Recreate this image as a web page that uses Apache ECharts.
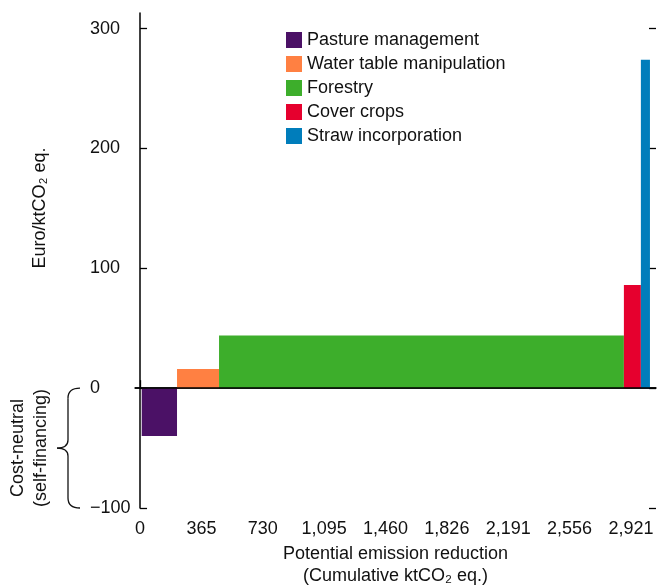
<!DOCTYPE html>
<html>
<head>
<meta charset="utf-8">
<script src="https://cdn.jsdelivr.net/npm/echarts@6/dist/echarts.min.js"></script>
<style>
  html, body { margin: 0; padding: 0; background: #fff; }
  #chart { width: 665px; height: 588px; }
</style>
</head>
<body>
<div id="chart"></div>
<script>
// Marginal abatement cost curve: bar width = emission reduction, height = cost.
const measures = ['Pasture management', 'Water table manipulation', 'Forestry', 'Cover crops', 'Straw incorporation'];
const colors = ['#4B1166', '#FF8042', '#3DAE2B', '#E6002E', '#007DBB'];
const reductions = [210, 250, 2409, 101, 54];   // ktCO2 eq. per measure
const costs = [-40, 16, 44, 86, 274];            // Euro/ktCO2 eq.
const curveStart = 10;
const xTicks = [0, 365.125, 730.25, 1095.375, 1460.5, 1825.625, 2190.75, 2555.875, 2921];
const xTickLabels = ['0', '365', '730', '1,095', '1,460', '1,826', '2,191', '2,556', '2,921'];
const yTicks = [-100, 0, 100, 200, 300];

const FONT = '"Liberation Sans", Arial, sans-serif';
const FS = 18;

const chart = echarts.init(document.getElementById('chart'));

// cumulative x ranges
let acc = curveStart;
const ranges = reductions.map(r => { const a = acc; acc += r; return [a, acc]; });

function renderItem(params, api) {
  const p0 = api.coord([api.value(0), api.value(2)]);
  const p1 = api.coord([api.value(1), 0]);
  return {
    type: 'rect',
    shape: {
      x: p0[0],
      y: Math.min(p0[1], p1[1]),
      width: p1[0] - p0[0],
      height: Math.abs(p1[1] - p0[1]),
    },
    style: { fill: api.visual('color') },
  };
}

const series = measures.map((name, i) => ({
  type: 'custom',
  name,
  renderItem,
  itemStyle: { color: colors[i] },
  encode: { x: [0, 1], y: 2 },
  data: [[ranges[i][0], ranges[i][1], costs[i]]],
  z: 2,
}));
series[0].markLine = {
  silent: true,
  symbol: 'none',
  label: { show: false },
  lineStyle: { color: '#000', width: 1.5, type: 'solid' },
  data: [{ yAxis: 0 }],
  z: 5,
};

chart.setOption({
  animation: false,
  textStyle: { fontFamily: FONT },
  grid: { left: 135, right: 9, top: 13, bottom: 80, outerBoundsMode: 'none' },
  legend: {
    data: measures,
    orient: 'vertical',
    left: 286,
    top: 31,
    padding: 0,
    icon: 'rect',
    itemWidth: 16,
    itemHeight: 16,
    itemGap: 6,
    textStyle: { fontSize: FS, color: '#111', fontFamily: FONT },
  },
  xAxis: {
    type: 'value',
    min: -30,
    max: 3070,
    splitLine: { show: false },
    axisLine: { lineStyle: { color: '#000', width: 1.5 } },
    axisTick: { inside: true, length: 8, customValues: xTicks, lineStyle: { color: '#000', width: 1.3 } },
    axisLabel: {
      customValues: xTicks,
      formatter: (v) => xTickLabels[xTicks.indexOf(v)] ?? '',
      fontSize: FS,
      color: '#111',
      margin: 12,
      fontFamily: FONT,
    },
    name: 'Potential emission reduction\n(Cumulative ktCO\u2082 eq.)',
    nameLocation: 'middle',
    nameGap: 35,
    nameTextStyle: { fontSize: FS, color: '#111', lineHeight: 22, fontFamily: FONT },
  },
  yAxis: [{
    type: 'value',
    min: -100,
    max: 313,
    splitLine: { show: false },
    axisLine: { show: true, lineStyle: { color: '#000', width: 1.5 } },
    axisTick: { inside: true, length: 7, customValues: yTicks, lineStyle: { color: '#000', width: 1.3 } },
    axisLabel: {
      customValues: yTicks,
      formatter: v => (v < 0 ? '\u2212' + Math.abs(v) : String(v)),
      align: 'left',
      margin: 45,
      fontSize: FS,
      color: '#111',
      fontFamily: FONT,
    },
  }, {
    type: 'value',
    position: 'right',
    min: -100,
    max: 313,
    splitLine: { show: false },
    axisLine: { show: false },
    axisTick: { show: true, inside: true, length: 7, customValues: yTicks, lineStyle: { color: '#000', width: 1.3 } },
    axisLabel: { show: false },
  }],
  series,
});

// annotations: y title, brace and the cost-neutral note
const y0 = chart.convertToPixel({ yAxisIndex: 0 }, 0);
const y1 = chart.convertToPixel({ yAxisIndex: 0 }, -100);
const ym = (y0 + y1) / 2;
const bx = 68, ex = 80, tip = 57;
const braceStyle = { fill: null, stroke: '#111', lineWidth: 1.3 };
const curve = (x1, yy1, x2, yy2, cx, cy) => ({
  type: 'bezierCurve',
  shape: { x1, y1: yy1, x2, y2: yy2, cpx1: cx, cpy1: cy },
  style: braceStyle,
});
const seg = (x1, yy1, x2, yy2) => ({
  type: 'line',
  shape: { x1, y1: yy1, x2, y2: yy2 },
  style: braceStyle,
});

chart.setOption({
  graphic: [
    {
      type: 'text',
      x: 40, y: 208,
      rotation: Math.PI / 2,
      style: {
        text: 'Euro/ktCO\u2082 eq.',
        fontSize: FS, fontFamily: FONT, fill: '#111',
        align: 'center', verticalAlign: 'middle',
      },
    },
    {
      type: 'text',
      x: 30, y: ym,
      rotation: Math.PI / 2,
      style: {
        text: 'Cost-neutral\n(self-financing)',
        fontSize: FS, lineHeight: 23, fontFamily: FONT, fill: '#111',
        align: 'center', verticalAlign: 'middle',
      },
    },
    curve(ex, y0, bx, y0 + 10, bx, y0),
    seg(bx, y0 + 10, bx, ym - 8),
    curve(bx, ym - 8, tip, ym, bx, ym),
    curve(tip, ym, bx, ym + 8, bx, ym),
    seg(bx, ym + 8, bx, y1 - 10),
    curve(bx, y1 - 10, ex, y1, bx, y1),
  ],
});
</script>
</body>
</html>
